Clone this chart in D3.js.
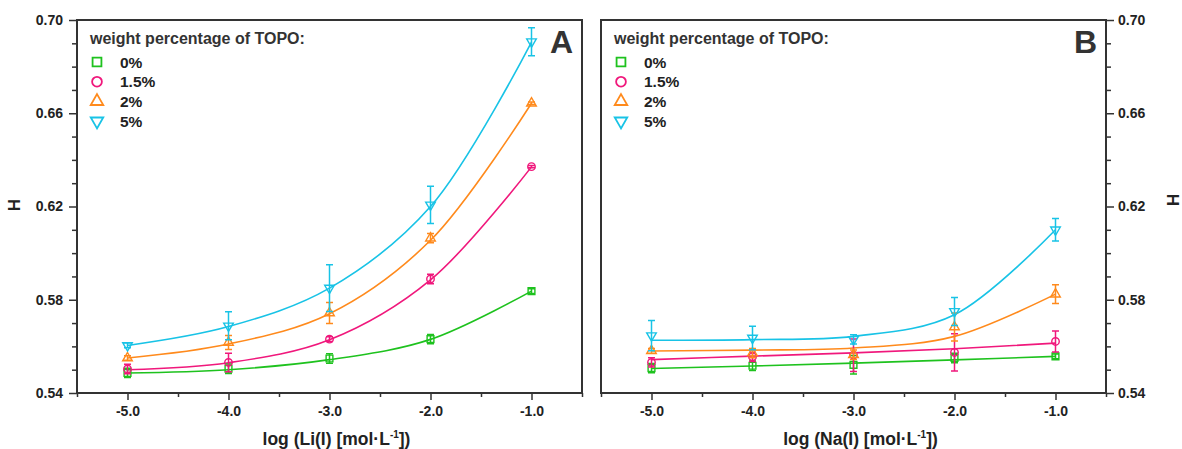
<!DOCTYPE html>
<head>
    <meta charset="utf-8">
    <title>H vs log concentration</title>
    <script src="https://d3js.org/d3.v7.min.js"></script>
    <style>
        body { margin: 0; background: #fff; }
        svg { font-family: "Liberation Sans", Arial, sans-serif; font-weight: bold; }
    </style>
</head>
<body>
    <div id="container"></div>
    <script>
        //------------------------DATA------------------------//
        var xVals = [-5, -4, -3, -2, -1];
        var seriesNames = ["0%", "1.5%", "2%", "5%"];
        var seriesColors = ["#1ec21e", "#f0187c", "#ff8a1c", "#18c3e6"];
        var yTicks = [0.54, 0.58, 0.62, 0.66, 0.70];
        var yMinor = [0.55, 0.56, 0.57, 0.59, 0.60, 0.61, 0.63, 0.64, 0.65, 0.67, 0.68, 0.69];
        var xMinor = [-5.5, -4.5, -3.5, -2.5, -1.5, -0.5];

        // panel A : Li(I), one row per TOPO percentage
        var liMean = [
            [0.5486, 0.5504, 0.5548, 0.5631, 0.5837],
            [0.5503, 0.5531, 0.5631, 0.5889, 0.6371],
            [0.5550, 0.5617, 0.5743, 0.6064, 0.6643],
            [0.5604, 0.5688, 0.5850, 0.6207, 0.6907]
        ];
        var liErr = [
            [0.002, 0.002, 0.002, 0.002, 0.001],
            [0.002, 0.004, 0.001, 0.002, 0.0005],
            [0.001, 0.003, 0.0045, 0.002, 0.0005],
            [0.001, 0.006, 0.010, 0.008, 0.006]
        ];
        var liFit = [
            [0.5486, 0.5500, 0.5543, 0.5630, 0.5837],
            [0.5500, 0.5530, 0.5628, 0.5885, 0.6370],
            [0.5550, 0.5610, 0.5740, 0.6055, 0.6643],
            [0.5604, 0.5685, 0.5850, 0.6200, 0.6905]
        ];

        // panel B : Na(I)
        var naMean = [
            [0.5507, 0.5517, 0.5521, 0.5550, 0.5557],
            [0.5531, 0.5555, 0.5562, 0.5574, 0.5621],
            [0.5581, 0.5571, 0.5564, 0.5683, 0.5824],
            [0.5646, 0.5636, 0.5630, 0.5750, 0.6100]
        ];
        var naErr = [
            [0.002, 0.002, 0.004, 0.002, 0.001],
            [0.002, 0.002, 0.007, 0.008, 0.0045],
            [0.001, 0.002, 0.002, 0.006, 0.004],
            [0.0065, 0.005, 0.002, 0.006, 0.0048]
        ];
        var naFit = [
            [0.5505, 0.5516, 0.5528, 0.5542, 0.5557],
            [0.5543, 0.5558, 0.5572, 0.5590, 0.5614],
            [0.5580, 0.5584, 0.5593, 0.5643, 0.5824],
            [0.5626, 0.5629, 0.5643, 0.5736, 0.6100]
        ];

        //------------------------SVG------------------------//
        var W = 1182, H = 449,
            plotTop = 20, plotBottom = 393,
            ink = "#333";

        var svg = d3.select("#container").append("svg")
            .attr("width", W).attr("height", H);

        var y = d3.scaleLinear().domain([0.54, 0.70]).range([plotBottom, plotTop]);

        var symbols = [
            { type: d3.symbolSquare, size: 46, rot: 0 },
            { type: d3.symbolCircle, size: 44, rot: 0 },
            { type: d3.symbolTriangle, size: 40, rot: 0 },
            { type: d3.symbolTriangle, size: 40, rot: 180 }
        ];

        function drawPanel(p) {
            var x = d3.scaleLinear().domain([-5.5, -0.5]).range([p.left, p.right]);
            var g = svg.append("g");

            // x axis : major + minor
            g.append("g").attr("transform", "translate(0," + plotBottom + ")")
                .call(d3.axisBottom(x).tickValues(xVals).tickSize(7).tickPadding(6)
                    .tickFormat(function (d) { return d.toFixed(1); }));
            g.append("g").attr("transform", "translate(0," + plotBottom + ")")
                .call(d3.axisBottom(x).tickValues(xMinor).tickSize(4).tickFormat(""));

            // y axis on left or right side
            var axisFn = p.yRight ? d3.axisRight : d3.axisLeft;
            var yx = p.yRight ? p.right : p.left;
            g.append("g").attr("transform", "translate(" + yx + ",0)")
                .call(axisFn(y).tickValues(yTicks).tickSize(8).tickPadding(p.yRight ? 4 : 6)
                    .tickFormat(d3.format(".2f")));
            g.append("g").attr("transform", "translate(" + yx + ",0)")
                .call(axisFn(y).tickValues(yMinor).tickSize(5).tickFormat(""));

            g.selectAll(".domain").remove();
            g.selectAll(".tick line").attr("stroke", ink).attr("stroke-width", 1.5);
            g.selectAll(".tick text").attr("fill", "#222").style("font-size", "14px")
                .style("font-family", "'Liberation Sans', Arial, sans-serif").style("font-weight", "bold");

            // frame
            g.append("rect")
                .attr("x", p.left).attr("y", plotTop)
                .attr("width", p.right - p.left).attr("height", plotBottom - plotTop)
                .attr("fill", "none").attr("stroke", ink).attr("stroke-width", 2);

            // fitted curves
            var line = d3.line()
                .x(function (d, i) { return x(xVals[i]); })
                .y(function (d) { return y(d); })
                .curve(d3.curveCatmullRom.alpha(0.5));

            p.fit.forEach(function (s, k) {
                g.append("path").datum(s)
                    .attr("d", line)
                    .attr("fill", "none")
                    .attr("stroke", seriesColors[k])
                    .attr("stroke-width", 1.6);
            });

            // error bars and markers
            p.mean.forEach(function (s, k) {
                var col = seriesColors[k];
                var pts = g.append("g").selectAll("g")
                    .data(s.map(function (v, i) { return { x: xVals[i], v: v, e: p.err[k][i] }; }))
                    .enter().append("g");

                pts.append("path")
                    .attr("d", function (d) {
                        var x0 = x(d.x), y1 = y(d.v + d.e), y2 = y(d.v - d.e);
                        return "M" + x0 + "," + y1 + "V" + y2 +
                            "M" + (x0 - 3.5) + "," + y1 + "H" + (x0 + 3.5) +
                            "M" + (x0 - 3.5) + "," + y2 + "H" + (x0 + 3.5);
                    })
                    .attr("fill", "none").attr("stroke", col).attr("stroke-width", 1.5);

                pts.append("path")
                    .attr("d", d3.symbol().type(symbols[k].type).size(symbols[k].size))
                    .attr("transform", function (d) {
                        return "translate(" + x(d.x) + "," + y(d.v) + ") rotate(" + symbols[k].rot + ")";
                    })
                    .attr("fill", "none").attr("stroke", col).attr("stroke-width", 1.4);
            });

            // legend
            var lg = g.append("g");
            lg.append("text")
                .attr("x", p.left + 13).attr("y", 44)
                .attr("fill", ink).style("font-size", "16px")
                .text("weight percentage of TOPO:");
            seriesNames.forEach(function (n, k) {
                var cy = 62 + k * 19.7;
                lg.append("path")
                    .attr("d", d3.symbol().type(symbols[k].type).size(symbols[k].size * 1.7))
                    .attr("transform", "translate(" + (p.left + 20) + "," + cy + ") rotate(" + symbols[k].rot + ")")
                    .attr("fill", "none").attr("stroke", seriesColors[k]).attr("stroke-width", 1.8);
                lg.append("text")
                    .attr("x", p.left + 43).attr("y", cy + 5.5)
                    .attr("fill", "#222").style("font-size", "15.5px")
                    .text(n);
            });

            // panel letter
            g.append("text")
                .attr("x", p.right - 9).attr("y", 53)
                .attr("text-anchor", "end")
                .attr("fill", ink).style("font-size", "32px")
                .text(p.letter);

            // x title
            var t = g.append("text")
                .attr("x", (p.left + p.right) / 2 + 7).attr("y", 445)
                .attr("text-anchor", "middle")
                .attr("fill", "#222").style("font-size", "17.5px");
            t.append("tspan").text("log (" + p.ion + " [mol\u00b7L");
            t.append("tspan").attr("dy", -7).style("font-size", "10px").text("-1");
            t.append("tspan").attr("dy", 7).text("])");
        }

        drawPanel({ left: 77, right: 582, yRight: false, mean: liMean, err: liErr, fit: liFit, letter: "A", ion: "Li(I)" });
        drawPanel({ left: 601, right: 1106, yRight: true, mean: naMean, err: naErr, fit: naFit, letter: "B", ion: "Na(I)" });

        // y titles
        svg.append("text")
            .attr("transform", "translate(20,205) rotate(-90)")
            .attr("text-anchor", "middle").attr("fill", "#222").style("font-size", "17px")
            .text("H");
        svg.append("text")
            .attr("transform", "translate(1167,200) rotate(90)")
            .attr("text-anchor", "middle").attr("fill", "#222").style("font-size", "17px")
            .text("H");
    </script>
</body>
